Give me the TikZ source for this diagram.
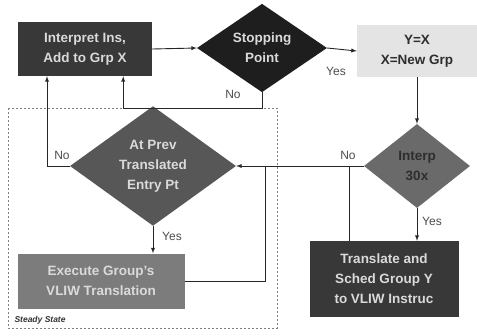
\documentclass[tikz,border=0pt]{standalone}
\usepackage{fontspec}
\setmainfont{Liberation Sans}
\usepackage{tikz}
\usetikzlibrary{arrows, shapes.geometric}
\definecolor{fonce}{HTML}{383838}
\definecolor{noir}{HTML}{1E1E1E}
\definecolor{clair}{HTML}{E4E4E4}
\definecolor{moyen}{HTML}{6A6A6A}
\definecolor{gris}{HTML}{575757}
\definecolor{exe}{HTML}{7C7C7C}
\definecolor{texteclair}{HTML}{DADADA}
\definecolor{textefonce}{HTML}{2E2E2E}

\begin{document}
\begin{tikzpicture}[x=1pt, y=-1pt,
    boite/.style={rectangle, align=center, inner sep=0pt, font=\fontsize{13.5}{20}\selectfont\bfseries},
    losange/.style={diamond, align=center, inner sep=0pt, font=\fontsize{13.5}{20}\selectfont\bfseries},
    fleche/.style={->, >=latex, line width=0.9pt, draw=black!85},
    trait/.style={line width=0.9pt, draw=black!85},
    etiq/.style={font=\fontsize{12}{14}\selectfont, text=black!70}]
    \useasboundingbox (0,0) rectangle (477,335);

    % Cadre Steady State
    \draw[gray, line width=0.8pt, dash pattern=on 2pt off 2pt] (8,108) rectangle (277,328);
    \node[anchor=west, font=\fontsize{8.5}{10}\selectfont\bfseries\itshape, text=black!80] (steady) at (11,320) {Steady State};

    % Les boites
    \node[boite, fill=fonce, text=texteclair, minimum width=134, minimum height=54] (interp) at (85,49) {Interpret Ins,\\Add to Grp X};
    \node[boite, fill=clair, text=textefonce, minimum width=120, minimum height=52] (ybox) at (417,51) {Y=X\\X=New Grp};
    \node[boite, fill=exe, text=texteclair, minimum width=167, minimum height=55] (exec) at (101,281) {Execute Group's\\VLIW Translation};
    \node[boite, fill=fonce, text=texteclair, minimum width=149, minimum height=76] (trans) at (384,279) {Translate and\\Sched Group Y\\to VLIW Instruc};

    % Les losanges
    \node[losange, fill=noir, text=texteclair, minimum width=130, minimum height=84] (stop) at (262,48) {Stopping\\Point};
    \node[losange, fill=moyen, text=textefonce, minimum width=106, minimum height=84] (idia) at (417,166) {Interp\\30x};
    \node[losange, fill=gris, text=texteclair, minimum width=166, minimum height=106] (prev) at (153,166) {At Prev\\Translated\\Entry Pt};

    % Points de jonction
    \coordinate (j1) at (265,166);
    \coordinate (j2) at (349,166);

    % Les fleches
    \draw[fleche] (interp.east) -- (stop.west);
    \draw[fleche] (stop.east) -- (ybox.west);
    \draw[fleche] (stop.south) -- ++(0,16) -| ([xshift=-29pt]interp.south east);
    \draw[fleche] (prev.west) -| ([xshift=-38pt]interp.south);
    \draw[fleche] (ybox.south) -- (idia.north);
    \draw[fleche] (idia.west) -- (prev.east);
    \draw[fleche] (idia.south) -- (idia.south |- trans.north);
    \draw[fleche] (prev.south) -- (prev.south |- exec.north);
    \draw[trait] (exec.east) -| (j1);
    \draw[trait] (trans.north -| j2) -- (j2);

    % Les etiquettes
    \node[etiq] (yes1) at (336,71) {Yes};
    \node[etiq] (no1) at (233,94) {No};
    \node[etiq] (no2) at (62,155) {No};
    \node[etiq] (no3) at (348,155) {No};
    \node[etiq] (yes2) at (432,221) {Yes};
    \node[etiq] (yes3) at (172,236) {Yes};
\end{tikzpicture}
\end{document}
